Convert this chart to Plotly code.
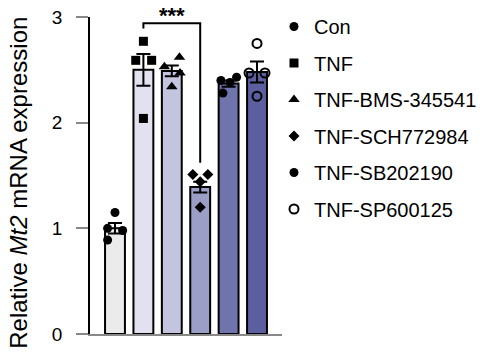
import plotly.graph_objects as go

groups = ["Con", "TNF", "TNF-BMS-345541", "TNF-SCH772984", "TNF-SB202190", "TNF-SP600125"]
means = [1.00, 2.50, 2.49, 1.39, 2.37, 2.48]
sems = [0.05, 0.15, 0.05, 0.05, 0.03, 0.10]
points = [
    [1.15, 1.00, 0.98, 0.89],
    [2.77, 2.59, 2.59, 2.04],
    [2.62, 2.53, 2.47, 2.34],
    [1.51, 1.51, 1.44, 1.20],
    [2.43, 2.40, 2.38, 2.28],
    [2.75, 2.47, 2.47, 2.25],
]
offsets = [
    [0.0, -0.26, 0.27, -0.26],
    [0.0, -0.27, 0.29, 0.0],
    [0.27, -0.26, 0.29, 0.0],
    [-0.26, 0.27, 0.0, 0.0],
    [0.28, -0.27, 0.05, -0.2],
    [0.0, -0.28, 0.28, 0.0],
]
bar_colors = ["#ebebeb", "#e1e1ef", "#c3c4de", "#9b9fc8", "#7074ac", "#5b5f9f"]
symbols = ["circle", "square", "triangle-up", "diamond", "circle", "circle-open"]
marker_sizes = [9, 9, 10, 8.5, 9, 9]

FONT = "Liberation Sans, Arial, sans-serif"
fig = go.Figure()

xs = list(range(len(groups)))
fig.add_trace(go.Bar(
    x=xs, y=means, width=0.7,
    marker=dict(color=bar_colors, line=dict(color="black", width=2)),
    error_y=dict(type="data", array=sems, visible=True, color="black", thickness=2, width=7),
    showlegend=False, hoverinfo="skip",
))

for i, g in enumerate(groups):
    sym = symbols[i]
    is_open = sym.endswith("open")
    fig.add_trace(go.Scatter(
        x=[i + o for o in offsets[i]], y=points[i], mode="markers",
        name=g, legendgroup=g,
        marker=dict(symbol=sym, size=marker_sizes[i], color="black",
                    line=dict(color="black", width=2 if is_open else 0)),
        cliponaxis=False,
    ))

# significance bracket between TNF (1) and TNF-SCH772984 (3)
fig.add_shape(type="path", path="M 1,2.89 L 1,2.94 L 3,2.94 L 3,1.62",
              xref="x", yref="y", line=dict(color="black", width=2))
fig.add_annotation(x=2, y=(334 - 1.5) / 317, xref="x", yref="paper", text="<b>***</b>",
                   showarrow=False, yanchor="top", borderpad=0,
                   font=dict(family=FONT, size=22, color="black"))

fig.add_annotation(text="Relative <i>Mt2</i> mRNA expression", textangle=-90,
                   xref="paper", yref="paper", x=(19 - 90) / 192, y=0.477,
                   xanchor="center", yanchor="middle", showarrow=False,
                   font=dict(family=FONT, size=24, color="black"))

fig.update_layout(
    width=487, height=357,
    margin=dict(l=90, r=205, t=17, b=23, autoexpand=False),
    plot_bgcolor="white", paper_bgcolor="white",
    font=dict(family=FONT, color="black"),
    showlegend=True,
    legend=dict(xref="container", yref="container", x=274 / 487, y=1 - 7 / 357,
                xanchor="left", yanchor="top", maxheight=340,
                font=dict(family=FONT, size=20, color="black"),
                tracegroupgap=7.5, itemsizing="trace", bgcolor="rgba(0,0,0,0)"),
)
fig.update_xaxes(range=[-0.88, 5.88], showline=True, linecolor="#888888", linewidth=2,
                 showticklabels=False, ticks="", showgrid=False, zeroline=False)
fig.update_yaxes(range=[0, 3], tickvals=[0, 1, 2, 3], showline=True, linecolor="black",
                 linewidth=1.5, ticks="outside", ticklen=12, tickcolor="#888888", tickwidth=1.5,
                 ticklabelstandoff=10, tickfont=dict(family=FONT, size=19, color="black"),
                 showgrid=False, zeroline=False, automargin=False)

fig.write_html("out.html", config={"displayModeBar": False},
               post_script="document.body.style.margin='0';document.body.style.overflow='hidden';")
